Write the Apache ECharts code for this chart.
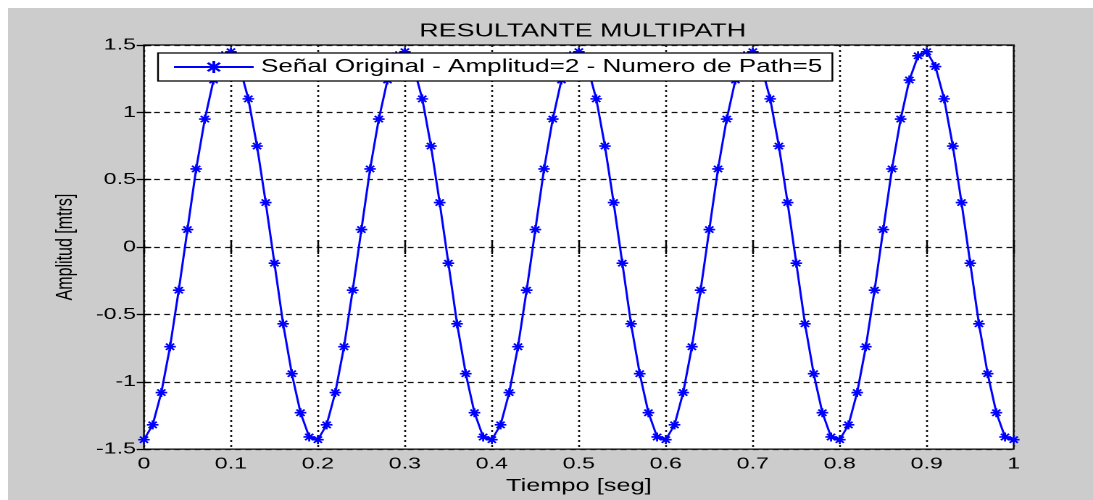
<!DOCTYPE html>
<html><head><meta charset="utf-8">
<script src="https://cdn.jsdelivr.net/npm/echarts@6/dist/echarts.min.js"></script>
<style>
html,body{margin:0;padding:0;background:#ffffff;width:1093px;height:500px;overflow:hidden;}
#bg{position:absolute;left:8px;top:8px;width:1085px;height:492px;background:#cccccc;}
#chart{position:absolute;left:0;top:0;width:754px;height:500px;transform:scaleX(1.4496);transform-origin:0 0;}
</style></head><body>
<div id="bg"></div><div id="chart"></div>
<script>
const chartTitle = 'RESULTANTE MULTIPATH';
const xName = 'Tiempo [seg]';
const yName = 'Amplitud [mtrs]';
const seriesName = 'Señal Original - Amplitud=2 - Numero de Path=5';

const timeSeg = [0,0.01,0.02,0.03,0.04,0.05,0.06,0.07,0.08,0.09,
  0.10,0.11,0.12,0.13,0.14,0.15,0.16,0.17,0.18,0.19,
  0.20,0.21,0.22,0.23,0.24,0.25,0.26,0.27,0.28,0.29,
  0.30,0.31,0.32,0.33,0.34,0.35,0.36,0.37,0.38,0.39,
  0.40,0.41,0.42,0.43,0.44,0.45,0.46,0.47,0.48,0.49,
  0.50,0.51,0.52,0.53,0.54,0.55,0.56,0.57,0.58,0.59,
  0.60,0.61,0.62,0.63,0.64,0.65,0.66,0.67,0.68,0.69,
  0.70,0.71,0.72,0.73,0.74,0.75,0.76,0.77,0.78,0.79,
  0.80,0.81,0.82,0.83,0.84,0.85,0.86,0.87,0.88,0.89,
  0.90,0.91,0.92,0.93,0.94,0.95,0.96,0.97,0.98,0.99,
  1.00];

const amplitud = [
  -1.43,-1.32,-1.08,-0.74,-0.32,0.13,0.58,0.95,1.24,1.42,
  1.45,1.34,1.10,0.75,0.33,-0.12,-0.57,-0.94,-1.23,-1.41,
  -1.43,-1.32,-1.08,-0.74,-0.32,0.13,0.58,0.95,1.24,1.42,
  1.45,1.34,1.10,0.75,0.33,-0.12,-0.57,-0.94,-1.23,-1.41,
  -1.43,-1.32,-1.08,-0.74,-0.32,0.13,0.58,0.95,1.24,1.42,
  1.45,1.34,1.10,0.75,0.33,-0.12,-0.57,-0.94,-1.23,-1.41,
  -1.43,-1.32,-1.08,-0.74,-0.32,0.13,0.58,0.95,1.24,1.42,
  1.45,1.34,1.10,0.75,0.33,-0.12,-0.57,-0.94,-1.23,-1.41,
  -1.43,-1.32,-1.08,-0.74,-0.32,0.13,0.58,0.95,1.24,1.42,
  1.45,1.34,1.10,0.75,0.33,-0.12,-0.57,-0.94,-1.23,-1.41,
  -1.43];

const xTicks = [0,0.1,0.2,0.3,0.4,0.5,0.6,0.7,0.8,0.9,1];
const yTicks = [-1.5,-1,-0.5,0,0.5,1,1.5];

const FONT = "'Liberation Sans', Arial, sans-serif";
const asterisk = 'path://M0 5L10 5M5 0L5 10M1.5 1.5L8.5 8.5M8.5 1.5L1.5 8.5';

const chart = echarts.init(document.getElementById('chart'), null, {devicePixelRatio: 2});

const seriesData = timeSeg.map((t, i) => [t, amplitud[i]]);

const xBase = {
  type: 'value', min: xTicks[0], max: xTicks[xTicks.length - 1], interval: 0.1,
  axisLine: {show: false}
};
const yBase = {
  type: 'value', min: yTicks[0], max: yTicks[yTicks.length - 1], interval: 0.5,
  axisLine: {show: false}
};

chart.setOption({
  animation: false,
  backgroundColor: 'transparent',
  title: {
    text: chartTitle, left: 397, top: 17, textAlign: 'center',
    textStyle: {fontFamily: FONT, fontSize: 18.5, fontWeight: 'normal', color: '#000'}
  },
  legend: {
    data: [seriesName], left: 109, top: 53,
    backgroundColor: '#ffffff', borderColor: '#000000', borderWidth: 1.2,
    padding: [5, 7, 5, 10], itemWidth: 55, itemHeight: 15, itemGap: 5,
    textStyle: {fontFamily: FONT, fontSize: 18, color: '#000'}
  },
  grid: {
    left: 99.3, right: 54.7, top: 45, bottom: 48,
    show: true, backgroundColor: '#ffffff', borderColor: '#000000', borderWidth: 1.2,
    containLabel: false
  },
  xAxis: [
    Object.assign({}, xBase, {
      position: 'bottom',
      name: xName, nameLocation: 'middle', nameGap: 26,
      nameTextStyle: {fontFamily: FONT, fontSize: 17.5, color: '#000'},
      axisTick: {show: true, inside: true, length: 7, lineStyle: {color: '#000', width: 1.2}},
      axisLabel: {fontFamily: FONT, fontSize: 16, color: '#000', margin: 7,
        formatter: v => String(Math.round(v * 10) / 10)},
      splitLine: {show: true, lineStyle: {color: '#111', width: 1.3, type: [2, 3]}}
    }),
    Object.assign({}, xBase, {
      position: 'top',
      axisTick: {show: true, inside: true, length: 7, lineStyle: {color: '#000', width: 1.2}},
      axisLabel: {show: false}, splitLine: {show: false}
    })
  ],
  yAxis: [
    Object.assign({}, yBase, {
      position: 'left',
      name: yName, nameLocation: 'middle', nameGap: 46,
      nameTextStyle: {fontFamily: FONT, fontSize: 16, color: '#000'},
      axisTick: {show: true, inside: true, length: 5, lineStyle: {color: '#000', width: 1.3}},
      axisLabel: {fontFamily: FONT, fontSize: 16, color: '#000', margin: 5.5},
      splitLine: {show: true, lineStyle: {color: '#111', width: 1.3, type: [4, 3]}}
    }),
    Object.assign({}, yBase, {
      position: 'right',
      axisTick: {show: true, inside: true, length: 5, lineStyle: {color: '#000', width: 1.3}},
      axisLabel: {show: false}, splitLine: {show: false}
    })
  ],
  series: [{
    name: seriesName, type: 'line', xAxisIndex: 0, yAxisIndex: 0,
    data: seriesData,
    symbol: asterisk, symbolSize: [8, 9], showAllSymbol: true,
    lineStyle: {color: '#0000ff', width: 1.5},
    itemStyle: {color: '#0000ff', borderColor: '#0000ff', borderWidth: 1.5},
    emphasis: {disabled: true}
  }]
});
</script>
</body></html>
